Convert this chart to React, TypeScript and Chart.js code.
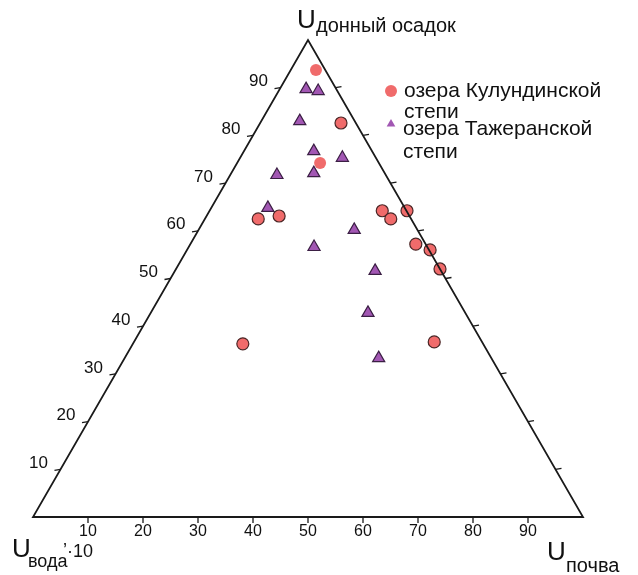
import React, { useEffect, useRef } from "react";
import { Chart, registerables } from "chart.js";

Chart.register(...registerables);

// Composition of the three components, in percent: soil (U почва) and bottom sediment (U донный осадок);
// the water share is the remainder.
const kulundaSoil = [4.6, 14.7, 15.1, 9.7, 13.2, 31.4, 33.8, 35.9, 41.0, 44.2, 48.0, 20.0, 54.6];
const kulundaSediment = [93.7, 82.6, 74.2, 62.5, 63.1, 64.2, 62.5, 64.2, 57.2, 56.0, 52.0, 36.3, 36.7];

const tazheranSoil = [4.8, 7.2, 7.0, 12.7, 18.6, 8.5, 15.0, 10.3, 28.3, 22.8, 36.4, 39.5, 46.2];
const tazheranSediment = [89.7, 89.3, 83.0, 76.7, 75.3, 71.7, 72.1, 64.8, 60.2, 56.6, 51.6, 42.8, 33.3];

const axisTicks = [10, 20, 30, 40, 50, 60, 70, 80, 90];

const seriesLabels = [
  ["озера Кулундинской", "степи"],
  ["озера Тажеранской", "степи"],
];

const H = Math.sqrt(3) / 2;
const FONT = '"Liberation Sans", Arial, sans-serif';
const RED = "#f06b6b";
const PURPLE = "#a257b3";

// Ternary (soil, sediment) -> cartesian position inside the equilateral triangle
const toXY = (soil: number[], sed: number[]) =>
  soil.map((s, i) => ({ x: s + sed[i] / 2, y: sed[i] * H }));

// Two Kulunda points are drawn without an outline
const kulundaBorder = kulundaSoil.map((_, i) => (i === 0 || i === 2 ? 0 : 1.2));

const ternaryFrame = {
  id: "ternaryFrame",
  afterDatasetsDraw(chart: any) {
    const { ctx } = chart;
    const xs = chart.scales.x;
    const ys = chart.scales.y;
    const P = (soil: number, sed: number): [number, number] => [
      xs.getPixelForValue(soil + sed / 2),
      ys.getPixelForValue(sed * H),
    ];
    ctx.save();
    ctx.strokeStyle = "#1a1a1a";
    ctx.lineWidth = 1.8;
    ctx.lineJoin = "miter";
    const a = P(0, 0);
    const b = P(100, 0);
    const c = P(0, 100);
    ctx.beginPath();
    ctx.moveTo(a[0], a[1]);
    ctx.lineTo(b[0], b[1]);
    ctx.lineTo(c[0], c[1]);
    ctx.closePath();
    ctx.stroke();

    ctx.lineWidth = 1.3;
    ctx.fillStyle = "#111";
    for (const v of axisTicks) {
      // left edge: sediment scale
      const [lx, ly] = P(0, v);
      ctx.beginPath();
      ctx.moveTo(lx, ly);
      ctx.lineTo(lx - 6, ly + 1);
      ctx.stroke();
      ctx.font = `17px ${FONT}`;
      ctx.textAlign = "center";
      ctx.textBaseline = "middle";
      ctx.fillText(String(v), lx - 22, ly - 6);

      // right edge ticks
      const [rx, ry] = P(100 - v, v);
      ctx.beginPath();
      ctx.moveTo(rx, ry);
      ctx.lineTo(rx + 6, ry - 1);
      ctx.stroke();

      // bottom edge: soil scale
      const [bx, by] = P(v, 0);
      ctx.beginPath();
      ctx.moveTo(bx, by);
      ctx.lineTo(bx, by + 6);
      ctx.stroke();
      ctx.font = `16px ${FONT}`;
      ctx.fillText(String(v), bx, by + 15);
    }
    ctx.restore();
  },
  afterDraw(chart: any) {
    const { ctx } = chart;
    ctx.save();
    ctx.fillStyle = "#111";
    ctx.textAlign = "left";
    ctx.textBaseline = "alphabetic";

    // vertex titles
    ctx.font = `26px ${FONT}`;
    ctx.fillText("U", 297, 28);
    ctx.font = `20px ${FONT}`;
    ctx.fillText("донный осадок", 316, 32);

    ctx.font = `26px ${FONT}`;
    ctx.fillText("U", 12, 557);
    ctx.font = `18px ${FONT}`;
    ctx.fillText("вода", 28, 567);
    ctx.fillText("’", 63, 556);
    ctx.fillText("·10", 67, 557);

    ctx.font = `26px ${FONT}`;
    ctx.fillText("U", 547, 560);
    ctx.font = `20px ${FONT}`;
    ctx.fillText("почва", 566, 572);

    // legend
    ctx.fillStyle = RED;
    ctx.beginPath();
    ctx.arc(391, 91, 6, 0, Math.PI * 2);
    ctx.fill();
    ctx.fillStyle = PURPLE;
    ctx.beginPath();
    const r = 5;
    ctx.moveTo(391, 124 - r);
    ctx.lineTo(391 + r * Math.sin((2 * Math.PI) / 3), 124 + r / 2);
    ctx.lineTo(391 - r * Math.sin((2 * Math.PI) / 3), 124 + r / 2);
    ctx.closePath();
    ctx.fill();

    ctx.fillStyle = "#111";
    ctx.font = `21px ${FONT}`;
    ctx.fillText(seriesLabels[0][0], 404, 97);
    ctx.fillText(seriesLabels[0][1], 404, 118);
    ctx.fillText(seriesLabels[1][0], 403, 135);
    ctx.fillText(seriesLabels[1][1], 403, 158);
    ctx.restore();
  },
};

export default function App() {
  const ref = useRef<HTMLCanvasElement>(null);

  useEffect(() => {
    if (!ref.current) return;
    const chart = new Chart(ref.current, {
      type: "scatter",
      data: {
        datasets: [
          {
            label: seriesLabels[1].join(" "),
            data: toXY(tazheranSoil, tazheranSediment),
            pointStyle: "triangle",
            pointRadius: 7,
            backgroundColor: PURPLE,
            borderColor: "#3b1f44",
            borderWidth: 1.2,
            clip: false,
          },
          {
            label: seriesLabels[0].join(" "),
            data: toXY(kulundaSoil, kulundaSediment),
            pointStyle: "circle",
            pointRadius: 6,
            backgroundColor: RED,
            borderColor: "#4a2626",
            borderWidth: kulundaBorder,
            clip: false,
          },
        ],
      },
      options: {
        animation: false,
        responsive: false,
        events: [],
        layout: { padding: { left: 33, right: 55, top: 40, bottom: 58 } },
        scales: {
          x: { type: "linear", min: 0, max: 100, display: false },
          y: { type: "linear", min: 0, max: 100 * H, display: false },
        },
        plugins: {
          legend: { display: false },
          tooltip: { enabled: false },
        },
      },
      plugins: [ternaryFrame],
    });
    return () => chart.destroy();
  }, []);

  return (
    <div style={{ position: "absolute", left: 0, top: 0, width: 638, height: 575, background: "#fff" }}>
      <canvas ref={ref} width={638} height={575} />
    </div>
  );
}
